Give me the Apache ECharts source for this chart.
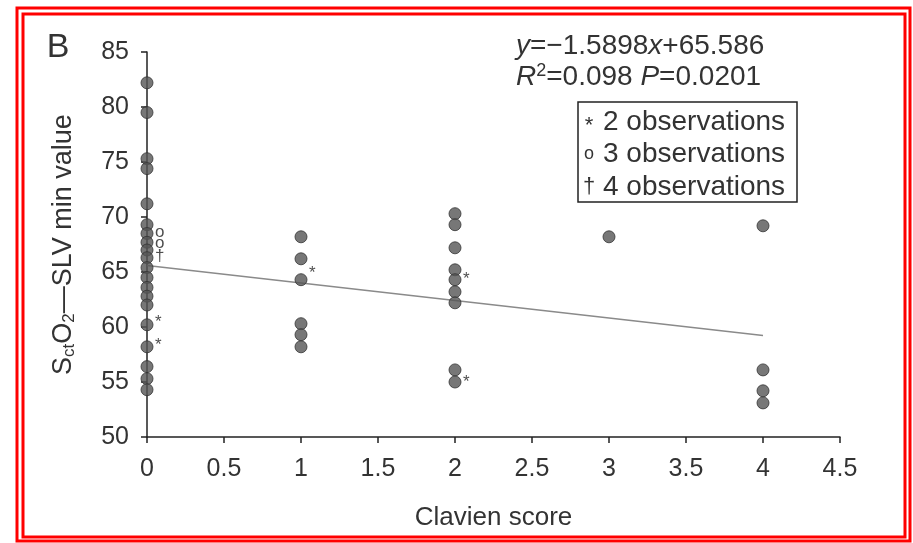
<!DOCTYPE html>
<html>
<head>
<meta charset="utf-8">
<script src="https://cdn.jsdelivr.net/npm/echarts@6/dist/echarts.min.js"></script>
<style>
  html, body { margin: 0; padding: 0; background: #fff; }
  #chart { width: 913px; height: 543px; }
</style>
</head>
<body>
<div id="chart"></div>
<script>
// values, one list per Clavien score
const clavienScores = [0, 1, 2, 3, 4];
const valuesScore0 = [82.2, 79.5, 75.3, 74.4, 71.2, 69.3, 68.5, 67.7, 67.0, 66.3, 65.4, 64.5, 63.6, 62.8, 62.0, 60.2, 58.2, 56.4, 55.3, 54.3];
const valuesScore1 = [68.2, 66.2, 64.3, 60.3, 59.3, 58.2];
const valuesScore2 = [70.3, 69.3, 67.2, 65.2, 64.3, 63.2, 62.2, 56.1, 55.0];
const valuesScore3 = [68.2];
const valuesScore4 = [69.2, 56.1, 54.2, 53.1];

// regression line end points
const fitX = [0, 4];
const fitY = [65.586, 59.227];

// multiplicity marks next to dots
const markX = [0, 0, 0, 0, 0, 1, 2, 2];
const markY = [68.6, 67.6, 66.4, 60.4, 58.3, 64.9, 64.3, 55.0];
const markText = ['o', 'o', '†', '*', '*', '*', '*', '*'];

const xTicks = ['0', '0.5', '1', '1.5', '2', '2.5', '3', '3.5', '4', '4.5'];
const yTicks = ['50', '55', '60', '65', '70', '75', '80', '85'];

const legendMarks = ['*', 'o', '†'];
const legendLabels = ['2 observations', '3 observations', '4 observations'];

const FONT = 'Liberation Sans, Arial, sans-serif';
const TXT = '#333';

const valueLists = [valuesScore0, valuesScore1, valuesScore2, valuesScore3, valuesScore4];
const dots = [];
clavienScores.forEach((s, i) => {
  valueLists[i].forEach(v => dots.push([s, v]));
});

const marks = markX.map((x, i) => ({ value: [x, markY[i]], mark: markText[i] }));

const chart = echarts.init(document.getElementById('chart'));

const legendGraphics = [
  {
    type: 'rect',
    shape: { x: 578, y: 102, width: 219, height: 100 },
    style: { fill: '#fff', stroke: '#222', lineWidth: 1.5 }
  }
];
legendLabels.forEach((t, i) => {
  const cy = 122 + i * 32.5;
  legendGraphics.push({
    type: 'text',
    style: {
      x: 589, y: cy + (legendMarks[i] === '*' ? 4 : 0),
      text: legendMarks[i],
      font: (legendMarks[i] === 'o' ? '18px ' : '22px ') + FONT,
      fill: TXT, align: 'center', verticalAlign: 'middle'
    }
  });
  legendGraphics.push({
    type: 'text',
    style: {
      x: 603, y: cy, text: t, font: '28px ' + FONT,
      fill: TXT, align: 'left', verticalAlign: 'middle'
    }
  });
});

const option = {
  animation: false,
  backgroundColor: '#fff',
  grid: { left: 147, right: 73, top: 52, bottom: 106 },
  xAxis: {
    type: 'value',
    min: 0, max: 4.5, interval: 0.5,
    name: 'Clavien score',
    nameLocation: 'middle',
    nameGap: 68,
    nameTextStyle: { fontSize: 26, color: TXT, fontFamily: FONT },
    axisLine: { show: true, onZero: false, lineStyle: { color: '#222', width: 1.5 } },
    axisTick: { show: true, length: 6, lineStyle: { color: '#222', width: 1.5 } },
    axisLabel: {
      margin: 20, fontSize: 25, color: TXT, fontFamily: FONT,
      formatter: (v) => xTicks[Math.round(v / 0.5)]
    },
    splitLine: { show: false }
  },
  yAxis: {
    type: 'value',
    min: 50, max: 85, interval: 5,
    name: 'S{sub|ct}O{sub|2}\u2014SLV min value',
    nameLocation: 'middle',
    nameRotate: 90,
    nameGap: 69,
    nameTextStyle: {
      fontSize: 27, color: TXT, fontFamily: FONT, lineHeight: 28,
      rich: {
        sub: { fontSize: 17, lineHeight: 12, verticalAlign: 'bottom', color: TXT, fontFamily: FONT }
      }
    },
    axisLine: { show: true, onZero: false, lineStyle: { color: '#222', width: 1.5 } },
    axisTick: { show: true, length: 6, lineStyle: { color: '#222', width: 1.5 } },
    axisLabel: {
      margin: 18, fontSize: 25, color: TXT, fontFamily: FONT,
      formatter: (v) => yTicks[Math.round((v - 50) / 5)]
    },
    splitLine: { show: false }
  },
  series: [
    {
      name: 'fit',
      type: 'line',
      data: fitX.map((x, i) => [x, fitY[i]]),
      symbol: 'none',
      lineStyle: { color: '#8a8a8a', width: 1.5 },
      z: 1
    },
    {
      name: 'patients',
      type: 'scatter',
      data: dots,
      symbol: 'circle',
      symbolSize: 12,
      itemStyle: { color: '#555', borderColor: '#333', borderWidth: 1 },
      z: 3
    },
    {
      name: 'marks',
      type: 'scatter',
      data: marks,
      symbolSize: 0,
      label: {
        show: true,
        position: 'right',
        distance: 8,
        color: '#222',
        fontFamily: FONT,
        fontSize: 17,
        formatter: (p) => p.data.mark
      },
      z: 4
    }
  ],
  graphic: [
    {
      type: 'rect',
      shape: { x: 17, y: 8, width: 893, height: 533 },
      style: { fill: 'none', stroke: '#ff0000', lineWidth: 3 },
      silent: true
    },
    {
      type: 'rect',
      shape: { x: 23, y: 14, width: 882, height: 523 },
      style: { fill: 'none', stroke: '#ff0000', lineWidth: 3 },
      silent: true
    },
    {
      type: 'text',
      style: { x: 58, y: 48, text: 'B', font: '34px ' + FONT, fill: TXT, align: 'center', verticalAlign: 'middle' }
    },
    {
      type: 'text',
      style: {
        x: 516, y: 31,
        text: '{i|y}=\u22121.5898{i|x}+65.586\n{i|R}{sup|2}=0.098 {i|P}=0.0201',
        font: '28px ' + FONT,
        fill: TXT,
        lineHeight: 31,
        rich: {
          i: { fontStyle: 'italic', fontSize: 28, fontFamily: FONT, lineHeight: 31, fill: TXT },
          sup: { fontSize: 18, fontFamily: FONT, lineHeight: 14, verticalAlign: 'top', fill: TXT }
        }
      }
    }
  ].concat(legendGraphics)
};

chart.setOption(option);
</script>
</body>
</html>
